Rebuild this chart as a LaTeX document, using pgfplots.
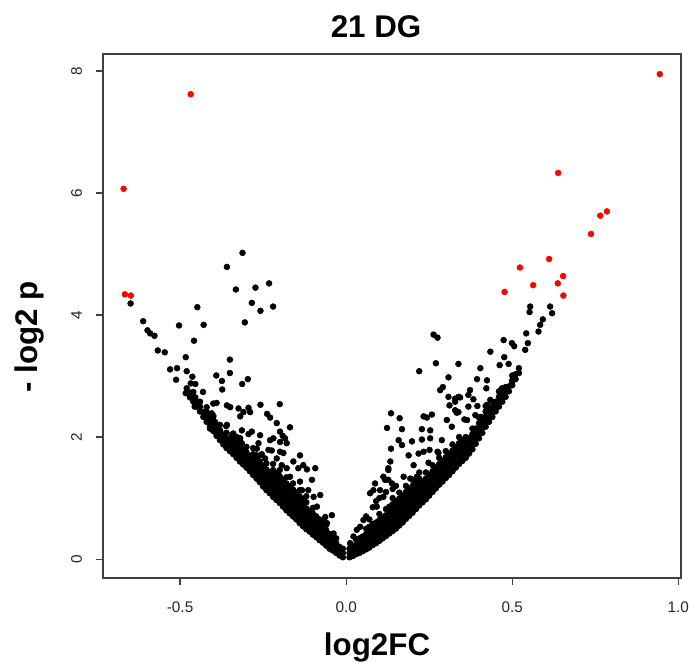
\documentclass[border=0pt]{standalone}
\usepackage{fontspec}
\setmainfont{Liberation Sans}
\usepackage{pgfplots}
\pgfplotsset{compat=1.18}
\begin{document}
\begin{tikzpicture}
\useasboundingbox (-77.25pt,-63pt) rectangle (441pt,433.5pt);
\begin{axis}[
  at={(0,0)}, anchor=south west,
  scale only axis, width=433.5pt, height=393pt,
  xmin=-0.732, xmax=1.008, ymin=-0.31, ymax=8.28,
  axis line style={black!75, line width=0.9pt},
  xtick={-0.5,0,0.5,1}, xticklabels={-0.5,0.0,0.5,1.0},
  ytick={0,2,4,6,8}, yticklabels={0,2,4,6,8},
  xtick pos=bottom, ytick pos=left, tick align=outside,
  major tick length=5.25pt,
  tick style={black!75, line width=0.9pt},
  tick label style={font=\fontsize{11.5}{13}\selectfont, text=black!85},
  xticklabel shift=9pt,
  yticklabel shift=7pt,
  yticklabel style={rotate=90, anchor=south},
  clip=false,
  mark size=2.2pt,
]
% dense band, left wing
\addplot[only marks, mark=*, black] coordinates {
(-0.01,0.03)(-0.01,0.10)(-0.01,0.17)
(-0.02,0.06)(-0.02,0.13)(-0.02,0.20)
(-0.03,0.10)(-0.03,0.18)(-0.03,0.26)(-0.03,0.34)
(-0.04,0.14)(-0.04,0.22)(-0.04,0.30)(-0.04,0.38)
(-0.05,0.17)(-0.05,0.25)(-0.05,0.33)(-0.05,0.41)
(-0.06,0.22)(-0.06,0.30)(-0.06,0.38)(-0.06,0.47)(-0.06,0.56)
(-0.07,0.27)(-0.07,0.35)(-0.07,0.43)(-0.07,0.52)(-0.07,0.61)
(-0.08,0.31)(-0.08,0.39)(-0.08,0.47)(-0.08,0.56)(-0.08,0.65)
(-0.09,0.36)(-0.09,0.44)(-0.09,0.52)(-0.09,0.61)(-0.09,0.70)
(-0.10,0.40)(-0.10,0.48)(-0.10,0.56)(-0.10,0.65)(-0.10,0.74)(-0.10,0.84)
(-0.11,0.45)(-0.11,0.53)(-0.11,0.61)(-0.11,0.70)(-0.11,0.79)
(-0.12,0.49)(-0.12,0.57)(-0.12,0.65)(-0.12,0.74)(-0.12,0.83)(-0.12,0.93)(-0.12,1.03)
(-0.13,0.54)(-0.13,0.62)(-0.13,0.70)(-0.13,0.79)(-0.13,0.88)(-0.13,0.98)
(-0.14,0.59)(-0.14,0.67)(-0.14,0.75)(-0.14,0.84)(-0.14,0.93)(-0.14,1.03)(-0.14,1.13)
(-0.15,0.65)(-0.15,0.73)(-0.15,0.81)(-0.15,0.90)(-0.15,0.99)(-0.15,1.09)
(-0.16,0.70)(-0.16,0.78)(-0.16,0.86)(-0.16,0.95)(-0.16,1.04)(-0.16,1.14)(-0.16,1.24)
(-0.17,0.75)(-0.17,0.83)(-0.17,0.91)(-0.17,1.00)(-0.17,1.09)(-0.17,1.19)
(-0.18,0.80)(-0.18,0.88)(-0.18,0.96)(-0.18,1.05)(-0.18,1.14)(-0.18,1.24)(-0.18,1.34)
(-0.19,0.86)(-0.19,0.94)(-0.19,1.02)(-0.19,1.11)(-0.19,1.20)(-0.19,1.30)
(-0.20,0.92)(-0.20,1.00)(-0.20,1.08)(-0.20,1.17)(-0.20,1.26)(-0.20,1.36)(-0.20,1.46)
(-0.21,0.97)(-0.21,1.05)(-0.21,1.13)(-0.21,1.22)(-0.21,1.31)(-0.21,1.41)
(-0.22,1.02)(-0.22,1.10)(-0.22,1.18)(-0.22,1.27)(-0.22,1.36)(-0.22,1.46)(-0.22,1.56)
(-0.23,1.08)(-0.23,1.16)(-0.23,1.24)(-0.23,1.33)(-0.23,1.42)
(-0.24,1.13)(-0.24,1.21)(-0.24,1.29)(-0.24,1.38)(-0.24,1.47)(-0.24,1.57)
(-0.25,1.19)(-0.25,1.27)(-0.25,1.35)(-0.25,1.44)(-0.25,1.53)
(-0.26,1.26)(-0.26,1.34)(-0.26,1.42)(-0.26,1.51)(-0.26,1.60)(-0.26,1.70)
(-0.27,1.32)(-0.27,1.40)(-0.27,1.48)(-0.27,1.57)(-0.27,1.66)
(-0.28,1.38)(-0.28,1.46)(-0.28,1.54)(-0.28,1.63)(-0.28,1.72)(-0.28,1.82)
(-0.29,1.44)(-0.29,1.52)(-0.29,1.60)(-0.29,1.69)
(-0.30,1.50)(-0.30,1.58)(-0.30,1.66)(-0.30,1.75)(-0.30,1.84)
(-0.31,1.55)(-0.31,1.63)(-0.31,1.71)(-0.31,1.80)
(-0.32,1.60)(-0.32,1.68)(-0.32,1.76)(-0.32,1.85)(-0.32,1.94)
(-0.33,1.66)(-0.33,1.74)(-0.33,1.82)(-0.33,1.91)
(-0.34,1.72)(-0.34,1.80)(-0.34,1.88)(-0.34,1.97)(-0.34,2.06)
(-0.35,1.77)(-0.35,1.85)(-0.35,1.93)
(-0.36,1.82)(-0.36,1.90)(-0.36,1.98)(-0.36,2.07)
(-0.37,1.88)(-0.37,1.96)(-0.37,2.04)
(-0.38,1.95)(-0.38,2.03)(-0.38,2.11)(-0.38,2.20)
(-0.39,2.02)(-0.39,2.10)(-0.39,2.18)
(-0.40,2.10)(-0.40,2.18)(-0.40,2.26)(-0.40,2.35)
(-0.41,2.17)(-0.41,2.25)(-0.41,2.33)
(-0.42,2.25)(-0.42,2.33)(-0.42,2.41)
(-0.43,2.33)(-0.43,2.41)
(-0.44,2.42)(-0.44,2.50)(-0.44,2.58)
(-0.45,2.50)(-0.45,2.58)
(-0.46,2.58)(-0.46,2.66)(-0.46,2.74)
(-0.47,2.65)(-0.47,2.73)
(-0.48,2.72)(-0.48,2.80)
};
% dense band, right wing
\addplot[only marks, mark=*, black] coordinates {
(0.01,0.03)(0.01,0.10)(0.01,0.17)
(0.02,0.05)(0.02,0.12)(0.02,0.19)
(0.03,0.08)(0.03,0.16)(0.03,0.24)(0.03,0.32)
(0.04,0.10)(0.04,0.18)(0.04,0.26)(0.04,0.34)
(0.05,0.13)(0.05,0.21)(0.05,0.29)(0.05,0.37)
(0.06,0.16)(0.06,0.24)(0.06,0.32)(0.06,0.41)(0.06,0.50)
(0.07,0.19)(0.07,0.27)(0.07,0.35)(0.07,0.44)(0.07,0.53)
(0.08,0.23)(0.08,0.31)(0.08,0.39)(0.08,0.48)(0.08,0.57)
(0.09,0.26)(0.09,0.34)(0.09,0.42)(0.09,0.51)(0.09,0.60)
(0.10,0.30)(0.10,0.38)(0.10,0.46)(0.10,0.55)(0.10,0.64)(0.10,0.74)
(0.11,0.34)(0.11,0.42)(0.11,0.50)(0.11,0.59)(0.11,0.68)
(0.12,0.38)(0.12,0.46)(0.12,0.54)(0.12,0.63)(0.12,0.72)(0.12,0.82)
(0.13,0.42)(0.13,0.50)(0.13,0.58)(0.13,0.67)(0.13,0.76)(0.13,0.86)
(0.14,0.46)(0.14,0.54)(0.14,0.62)(0.14,0.71)(0.14,0.80)(0.14,0.90)(0.14,1.00)
(0.15,0.50)(0.15,0.58)(0.15,0.66)(0.15,0.75)(0.15,0.84)(0.15,0.94)
(0.16,0.55)(0.16,0.63)(0.16,0.71)(0.16,0.80)(0.16,0.89)(0.16,0.99)(0.16,1.09)
(0.17,0.60)(0.17,0.68)(0.17,0.76)(0.17,0.85)(0.17,0.94)(0.17,1.04)
(0.18,0.66)(0.18,0.74)(0.18,0.82)(0.18,0.91)(0.18,1.00)(0.18,1.10)(0.18,1.20)
(0.19,0.71)(0.19,0.79)(0.19,0.87)(0.19,0.96)(0.19,1.05)(0.19,1.15)
(0.20,0.76)(0.20,0.84)(0.20,0.92)(0.20,1.01)(0.20,1.10)(0.20,1.20)(0.20,1.30)
(0.21,0.82)(0.21,0.90)(0.21,0.98)(0.21,1.07)(0.21,1.16)(0.21,1.26)
(0.22,0.88)(0.22,0.96)(0.22,1.04)(0.22,1.13)(0.22,1.22)(0.22,1.32)(0.22,1.42)
(0.23,0.93)(0.23,1.01)(0.23,1.09)(0.23,1.18)(0.23,1.27)
(0.24,0.98)(0.24,1.06)(0.24,1.14)(0.24,1.23)(0.24,1.32)(0.24,1.42)
(0.25,1.04)(0.25,1.12)(0.25,1.20)(0.25,1.29)(0.25,1.38)
(0.26,1.10)(0.26,1.18)(0.26,1.26)(0.26,1.35)(0.26,1.44)(0.26,1.54)
(0.27,1.16)(0.27,1.24)(0.27,1.32)(0.27,1.41)(0.27,1.50)
(0.28,1.22)(0.28,1.30)(0.28,1.38)(0.28,1.47)(0.28,1.56)(0.28,1.66)
(0.29,1.27)(0.29,1.35)(0.29,1.43)(0.29,1.52)(0.29,1.61)
(0.30,1.33)(0.30,1.41)(0.30,1.49)(0.30,1.58)(0.30,1.67)(0.30,1.77)
(0.31,1.38)(0.31,1.46)(0.31,1.54)(0.31,1.63)(0.31,1.72)
(0.32,1.44)(0.32,1.52)(0.32,1.60)(0.32,1.69)(0.32,1.78)(0.32,1.88)
(0.33,1.50)(0.33,1.58)(0.33,1.66)(0.33,1.75)(0.33,1.84)
(0.34,1.56)(0.34,1.64)(0.34,1.72)(0.34,1.81)(0.34,1.90)(0.34,2.00)
(0.35,1.61)(0.35,1.69)(0.35,1.77)(0.35,1.86)(0.35,1.95)
(0.36,1.66)(0.36,1.74)(0.36,1.82)(0.36,1.91)(0.36,2.00)
(0.37,1.73)(0.37,1.81)(0.37,1.89)(0.37,1.98)
(0.38,1.80)(0.38,1.88)(0.38,1.96)(0.38,2.05)(0.38,2.14)
(0.39,1.89)(0.39,1.97)(0.39,2.05)(0.39,2.14)
(0.40,1.98)(0.40,2.06)(0.40,2.14)(0.40,2.23)(0.40,2.32)
(0.41,2.07)(0.41,2.15)(0.41,2.23)(0.41,2.32)
(0.42,2.17)(0.42,2.25)(0.42,2.33)(0.42,2.42)(0.42,2.51)
(0.43,2.25)(0.43,2.33)(0.43,2.41)
(0.44,2.33)(0.44,2.41)(0.44,2.49)(0.44,2.58)
(0.45,2.42)(0.45,2.50)(0.45,2.58)
(0.46,2.50)(0.46,2.58)(0.46,2.66)(0.46,2.75)
(0.47,2.58)(0.47,2.66)(0.47,2.74)
(0.48,2.66)(0.48,2.74)(0.48,2.82)
(0.49,2.75)(0.49,2.83)
(0.50,2.85)(0.50,2.93)(0.50,3.01)
(0.51,2.95)(0.51,3.03)
(0.52,3.05)(0.52,3.13)
};
% scattered genes, left
\addplot[only marks, mark=*, black] coordinates {
(-0.312,5.02)(-0.359,4.79)(-0.232,4.52)(-0.273,4.45)(-0.332,4.42)(-0.284,4.20)(-0.220,4.14)(-0.258,4.07)(-0.305,3.88)
(-0.649,4.19)(-0.448,4.13)(-0.611,3.90)(-0.598,3.75)(-0.590,3.70)(-0.577,3.66)(-0.503,3.83)(-0.429,3.84)(-0.458,3.58)
(-0.567,3.42)(-0.546,3.39)(-0.483,3.31)(-0.350,3.27)(-0.530,3.11)(-0.509,3.13)(-0.480,3.08)(-0.463,2.99)(-0.468,2.88)(-0.454,2.87)
(-0.512,2.94)(-0.391,3.01)(-0.350,3.05)(-0.374,2.92)(-0.296,2.95)(-0.313,2.87)(-0.373,2.78)(-0.483,2.72)(-0.454,2.65)(-0.431,2.74)
(-0.456,2.50)(-0.420,2.49)(-0.400,2.55)(-0.390,2.56)(-0.359,2.52)(-0.349,2.49)(-0.324,2.47)(-0.294,2.48)(-0.258,2.53)(-0.200,2.54)
(-0.309,2.41)(-0.289,2.41)(-0.238,2.38)(-0.405,2.39)(-0.400,2.33)(-0.319,2.34)
(-0.229,2.32)(-0.209,2.23)(-0.169,2.16)(-0.199,2.09)(-0.284,2.09)(-0.259,2.03)(-0.314,2.11)(-0.415,2.28)(-0.395,2.25)
(-0.359,2.20)(-0.380,2.11)(-0.385,2.06)(-0.339,2.03)(-0.319,1.98)(-0.314,1.90)(-0.229,1.95)(-0.199,1.92)(-0.179,1.90)
(-0.234,1.79)(-0.199,1.76)(-0.209,1.65)(-0.139,1.70)(-0.159,1.60)(-0.194,1.54)(-0.179,1.49)(-0.144,1.49)(-0.129,1.54)(-0.093,1.49)
(-0.169,1.35)(-0.139,1.27)(-0.103,1.30)(-0.114,1.13)(-0.078,1.05)(-0.088,0.86)(-0.103,0.78)(-0.063,0.69)(-0.038,0.42)
(-0.264,1.90)(-0.269,1.81)(-0.224,1.78)(-0.189,1.74)(-0.219,1.98)(-0.191,2.02)(-0.184,1.98)(-0.294,2.05)
(-0.329,2.00)(-0.344,2.02)(-0.361,2.18)(-0.410,2.14)(-0.395,2.11)(-0.390,2.05)
(-0.118,1.47)(-0.098,1.02)(-0.133,1.13)(-0.058,0.59)(-0.043,0.72)(-0.254,1.72)(-0.244,1.65)(-0.270,1.70)
};
% scattered genes, right
\addplot[only marks, mark=*, black] coordinates {
(0.263,3.68)(0.275,3.63)(0.270,3.21)(0.338,3.20)(0.220,3.08)(0.404,3.13)(0.308,2.98)(0.394,2.95)
(0.283,2.77)(0.291,2.82)(0.373,2.77)(0.422,2.80)(0.424,2.93)(0.469,2.80)(0.484,2.78)(0.499,2.88)
(0.474,3.59)(0.499,3.54)(0.506,3.49)(0.434,3.40)(0.476,3.31)(0.462,3.18)(0.489,3.20)
(0.554,4.14)(0.552,4.05)(0.614,4.14)(0.620,4.03)(0.592,3.93)(0.584,3.84)(0.579,3.73)(0.542,3.70)(0.547,3.54)(0.539,3.43)
(0.328,2.63)(0.343,2.65)(0.383,2.62)(0.434,2.61)(0.464,2.63)(0.472,2.69)(0.338,2.66)(0.368,2.69)(0.308,2.66)(0.328,2.58)
(0.311,2.52)(0.368,2.50)(0.395,2.51)(0.328,2.44)(0.333,2.40)(0.424,2.53)(0.433,2.47)(0.438,2.44)
(0.135,2.39)(0.161,2.31)(0.123,2.15)(0.168,2.13)(0.233,2.34)(0.258,2.37)(0.243,2.32)(0.228,2.13)(0.253,2.11)
(0.303,2.28)(0.356,2.29)(0.405,2.33)(0.425,2.37)(0.318,2.17)(0.364,2.28)(0.389,2.36)(0.338,2.41)
(0.158,1.95)(0.198,1.93)(0.228,1.96)(0.253,1.98)(0.288,1.95)
(0.135,1.81)(0.168,1.87)(0.188,1.70)(0.218,1.73)(0.233,1.76)(0.251,1.79)(0.275,1.76)(0.278,1.74)
(0.203,1.54)(0.248,1.58)(0.133,1.60)(0.127,1.49)(0.112,1.35)(0.127,1.30)(0.138,1.24)(0.087,1.24)(0.072,1.08)(0.082,1.13)
(0.173,1.35)(0.193,1.32)(0.213,1.35)(0.102,1.13)(0.112,1.02)(0.092,0.86)(0.117,1.30)(0.127,1.46)
(0.052,0.64)(0.042,0.53)(0.032,0.48)(0.022,0.37)(0.012,0.26)
(0.06,0.70)(0.08,0.85)(0.09,0.95)(0.10,1.00)(0.12,1.10)(0.14,1.15)(0.15,1.20)(0.07,0.65)
};
% significant genes
\addplot[only marks, mark=*, red] coordinates {
(-0.468,7.62)(-0.670,6.07)(-0.666,4.34)(-0.648,4.32)
(0.944,7.95)(0.638,6.33)(0.785,5.70)(0.765,5.63)(0.737,5.33)(0.611,4.92)
(0.523,4.78)(0.653,4.64)(0.637,4.52)(0.563,4.49)(0.477,4.38)(0.654,4.32)
};
\node[anchor=base, font=\bfseries\fontsize{23.5}{28}\selectfont] at (axis cs:0.090,8.557) {21 DG};
\node[anchor=base, font=\bfseries\fontsize{23.5}{28}\selectfont] at (axis cs:0.093,-1.574) {log2FC};
\node[anchor=base, rotate=90, font=\bfseries\fontsize{23.5}{28}\selectfont] at (axis cs:-0.928,3.64) {- log2 p};
\end{axis}
\end{tikzpicture}
\end{document}
